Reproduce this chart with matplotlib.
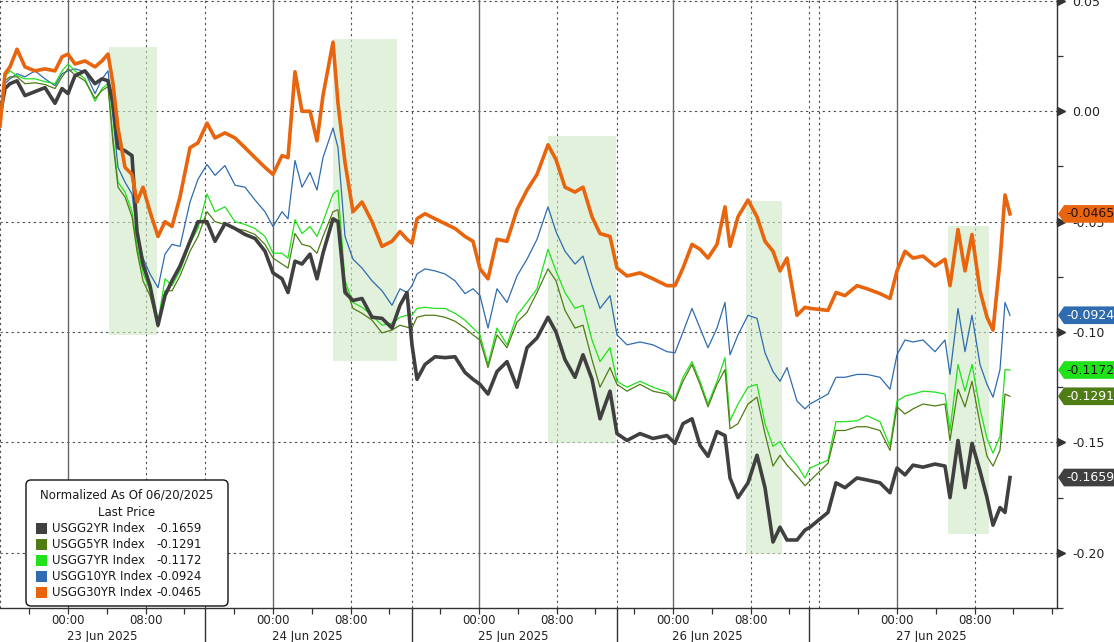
import matplotlib
matplotlib.use('Agg')
import numpy as np
import matplotlib.pyplot as plt
import matplotlib.transforms as mtransforms
from matplotlib.patches import Rectangle, FancyBboxPatch, Polygon

# x = bar index on the compressed intraday axis, values = yield change in bp
bars = [0, 5, 10, 17, 25, 35, 45, 55, 62, 68,
        75, 85, 95, 102, 108, 113, 118, 125, 132, 137,
        143, 150, 158, 165, 172, 180, 190, 198, 207, 215,
        225, 235, 245, 255, 265, 273, 282, 288, 295, 302,
        310, 317, 323, 333, 338, 345, 353, 362, 372, 382,
        392, 400, 407, 412, 417, 425, 435, 445, 455, 465,
        473, 480, 488, 497, 507, 517, 527, 537, 548, 556,
        565, 575, 583, 592, 600, 610, 617, 627, 640, 653,
        667, 675, 683, 692, 700, 708, 717, 725, 730, 738,
        748, 757, 765, 773, 780, 787, 797, 805, 810, 828,
        836, 845, 857, 867, 880, 890, 897, 905, 913, 923,
        935, 945, 950, 958, 965, 972, 980, 987, 993, 1000,
        1005, 1010]

usgg2 = [-0.22, 1.03, 1.25, 1.38, 0.71, 0.89, 1.07, 0.36, 1.03, 0.80,
         1.61, 1.83, 1.25, 1.47, 1.38, 0.36, -1.65, -1.79, -2.01, -5.45,
         -6.92, -7.90, -9.69, -8.35, -7.68, -7.01, -5.89, -5.00, -5.00, -5.89,
         -5.09, -5.31, -5.58, -5.76, -6.34, -7.32, -7.59, -8.21, -6.79, -6.92,
         -6.47, -7.59, -6.43, -4.87, -5.00, -8.21, -8.57, -8.48, -9.33, -9.38,
         -9.82, -8.79, -8.21, -10.58, -12.14, -11.47, -11.12, -11.16, -11.12, -11.83,
         -12.14, -12.37, -12.81, -11.79, -11.34, -12.50, -10.71, -10.27, -9.33, -10.00,
         -11.25, -12.05, -11.03, -12.14, -13.93, -12.68, -14.60, -14.91, -14.60, -14.82,
         -14.69, -15.04, -14.15, -13.93, -15.13, -15.63, -14.51, -14.69, -16.61, -17.50,
         -16.83, -15.58, -17.05, -19.51, -18.84, -19.42, -19.42, -18.97, -18.84, -18.17,
         -16.83, -17.05, -16.61, -16.70, -16.83, -17.28, -16.16, -16.47, -16.03, -16.12,
         -15.98, -16.07, -17.50, -14.91, -17.05, -15.04, -16.29, -17.50, -18.75, -17.95,
         -18.17, -16.59]

usgg5 = [-0.09, 1.38, 1.56, 1.56, 1.25, 1.29, 1.21, 1.03, 1.56, 1.92,
         1.65, 1.38, 0.58, 0.94, 1.12, -1.43, -3.44, -3.88, -4.78, -6.34,
         -7.68, -8.35, -9.78, -8.13, -8.13, -7.46, -6.34, -5.67, -4.55, -5.00,
         -5.13, -5.31, -5.40, -5.58, -6.03, -6.65, -6.92, -7.10, -5.54, -6.03,
         -6.12, -6.43, -5.67, -4.55, -4.46, -7.90, -8.93, -9.15, -9.46, -10.04,
         -9.91, -9.69, -9.78, -9.82, -9.33, -9.24, -9.24, -9.33, -9.51, -9.82,
         -10.13, -10.36, -11.61, -10.13, -10.71, -9.55, -9.11, -8.21, -7.14, -7.68,
         -9.02, -9.82, -9.69, -11.25, -12.50, -11.61, -12.37, -12.68, -12.37, -12.68,
         -12.81, -13.13, -12.23, -11.47, -12.37, -13.39, -12.37, -11.70, -14.38, -14.15,
         -13.26, -12.95, -14.60, -16.07, -15.58, -16.03, -16.52, -16.96, -16.74, -15.94,
         -14.46, -14.46, -14.29, -14.29, -14.46, -15.36, -13.39, -13.71, -13.48, -13.26,
         -13.35, -13.26, -14.91, -12.59, -13.39, -12.23, -14.15, -15.63, -16.07, -15.36,
         -12.81, -12.91]

usgg7 = [-0.09, 1.56, 1.83, 1.61, 1.47, 1.47, 1.34, 1.25, 1.83, 2.14,
         1.83, 1.47, 0.45, 1.03, 1.25, -1.21, -3.21, -3.66, -4.55, -6.12,
         -7.32, -8.13, -9.55, -7.59, -7.90, -7.23, -5.98, -5.31, -3.75, -4.55,
         -4.33, -5.00, -5.13, -5.31, -5.67, -6.43, -6.43, -6.65, -4.91, -5.54,
         -5.22, -5.67, -5.00, -3.75, -3.57, -7.68, -8.66, -8.88, -9.24, -9.69,
         -9.60, -9.33, -9.24, -9.24, -8.93, -8.88, -8.93, -8.93, -9.15, -9.46,
         -9.82, -10.13, -11.47, -9.82, -10.58, -9.24, -8.66, -8.04, -6.25, -7.23,
         -8.21, -8.93, -8.79, -10.36, -11.34, -10.71, -12.23, -12.50, -12.23, -12.50,
         -12.72, -13.04, -12.05, -11.34, -12.23, -13.26, -12.23, -11.16, -14.02, -13.26,
         -12.50, -12.37, -14.15, -15.18, -14.96, -15.49, -16.03, -16.61, -16.16, -15.80,
         -14.06, -14.06, -14.02, -13.79, -14.06, -15.18, -13.13, -12.90, -12.81, -12.68,
         -12.72, -12.81, -14.46, -11.47, -12.68, -11.47, -13.48, -14.82, -15.49, -14.73,
         -11.70, -11.72]

usgg10 = [-0.09, 1.25, 1.47, 1.70, 1.56, 1.83, 1.47, 1.16, 1.70, 1.83,
          1.92, 1.79, 0.80, 1.47, 1.83, -0.31, -2.54, -3.21, -3.75, -5.45,
          -6.65, -7.37, -7.99, -6.47, -6.03, -6.12, -4.11, -3.08, -2.41, -2.90,
          -2.46, -3.35, -3.44, -4.02, -4.55, -5.22, -4.55, -4.87, -2.23, -3.44,
          -2.77, -3.57, -2.10, -0.76, -1.65, -5.67, -6.70, -7.10, -7.68, -8.13,
          -8.79, -8.04, -8.21, -7.90, -7.37, -7.14, -7.23, -7.37, -7.68, -8.26,
          -8.04, -8.35, -9.82, -8.04, -8.66, -7.46, -6.70, -5.80, -4.33, -5.45,
          -6.34, -6.92, -6.56, -7.90, -8.93, -8.35, -10.13, -10.58, -10.45, -10.58,
          -10.89, -10.94, -10.00, -8.93, -9.82, -10.71, -9.82, -8.66, -11.03, -10.13,
          -9.24, -9.38, -10.94, -11.79, -12.23, -11.61, -13.13, -13.48, -13.26, -12.81,
          -12.05, -12.05, -11.92, -11.92, -12.05, -12.59, -11.03, -10.36, -10.45, -10.36,
          -10.89, -10.36, -11.92, -8.93, -10.89, -9.24, -11.47, -12.37, -12.95, -11.70,
          -8.66, -9.24]

usgg30 = [-0.67, 1.70, 2.01, 2.81, 2.01, 1.83, 1.92, 1.83, 2.46, 2.59,
          2.14, 2.28, 2.01, 2.28, 2.59, 1.25, -0.76, -2.54, -2.86, -4.11,
          -3.44, -4.55, -5.67, -5.00, -5.22, -3.88, -1.65, -1.43, -0.54, -1.21,
          -0.98, -1.21, -1.65, -2.10, -2.54, -2.86, -2.01, -2.10, 1.79, 0.00,
          0.00, -1.34, 0.71, 3.13, 0.36, -2.32, -4.55, -4.11, -5.00, -6.12,
          -5.89, -5.45, -5.80, -5.98, -4.87, -4.64, -4.87, -5.09, -5.31, -5.67,
          -5.89, -7.14, -7.59, -5.80, -5.89, -4.46, -3.57, -2.86, -1.52, -2.19,
          -3.44, -3.66, -3.44, -4.78, -5.54, -5.67, -7.10, -7.46, -7.32, -7.59,
          -7.90, -7.90, -7.10, -6.03, -6.25, -6.65, -6.03, -4.33, -6.12, -4.78,
          -4.02, -4.78, -5.89, -6.34, -7.23, -6.65, -9.24, -8.88, -8.93, -9.02,
          -8.21, -8.35, -7.90, -8.04, -8.26, -8.48, -7.23, -6.34, -6.65, -6.56,
          -7.01, -6.70, -7.90, -5.36, -7.23, -5.58, -8.13, -9.33, -9.91, -6.79,
          -3.79, -4.65]

names = ['USGG2YR Index', 'USGG5YR Index', 'USGG7YR Index', 'USGG10YR Index', 'USGG30YR Index']
day_labels = ['23 Jun 2025', '24 Jun 2025', '25 Jun 2025', '26 Jun 2025', '27 Jun 2025']
# shaded windows: (start bar, end bar, top bp, bottom bp)
windows = [(109, 157, 2.90, -10.13), (333, 397, 3.26, -11.29), (548, 616, -1.12, -15.04),
           (746, 782, -4.06, -20.04), (948, 989, -5.18, -19.15)]

midnights = [68, 273, 479, 673, 897]
day_breaks = [205, 412, 617, 809]
bars_per_hour = 9.7

colors = ['#404040', '#4f7c14', '#1fe21a', '#2e6bb0', '#e8650e']
text_colors = ['white', 'white', '#1a1a1a', 'white', '#2a1000']
widths = [2.6, 0.9, 0.9, 0.9, 2.6]
data = [usgg2, usgg5, usgg7, usgg10, usgg30]

fig = plt.figure(figsize=(11.14, 6.42), dpi=100)
ax = fig.add_axes([0, 1 - 608 / 642, 1057 / 1114, 608 / 642])
ax.set_xlim(0, 1057)
ax.set_ylim(-0.221, 0.0504)

# reference-pixel transform (origin at top-left of the plot area)
px = mtransforms.Affine2D().scale(1 / 1057, -1 / 608).translate(0, 1) + ax.transAxes
px_y_data = mtransforms.blended_transform_factory(px, ax.transData)

# grid
grid_style = dict(color='#4a4a4a', lw=0.8, ls=(0, (2, 3)), zorder=1)
for v in [0.05, 0.0, -0.05, -0.10, -0.15, -0.20]:
    ax.axhline(v, **grid_style)
for m in midnights:
    ax.axvline(m, color='#666666', lw=1.0, zorder=1)
    ax.axvline(m + 8 * bars_per_hour, **grid_style)
for b in [0] + day_breaks + [819]:
    ax.axvline(b, **grid_style)

for x0, x1, top, bot in windows:
    ax.add_patch(Rectangle((x0, bot / 100), x1 - x0, (top - bot) / 100,
                           facecolor='#cfe9c6', alpha=0.6, edgecolor='none', zorder=1.5))

order = [3, 2, 1, 0, 4]
for i in order:
    ax.plot(bars, np.array(data[i]) / 100, color=colors[i], lw=widths[i], zorder=3,
            solid_joinstyle='round')

# axes styling
for s in ['top', 'left']:
    ax.spines[s].set_visible(False)
for s in ['right', 'bottom']:
    ax.spines[s].set_color('#333333')
    ax.spines[s].set_linewidth(1.0)

ax.yaxis.tick_right()
major = [0.05, 0.0, -0.05, -0.10, -0.15, -0.20]
ax.set_yticks(major)
ax.set_yticklabels(['%.2f' % v for v in major])
ax.set_yticks(np.arange(-0.225, 0.05, 0.025), minor=True)
ax.tick_params(axis='y', which='major', length=0, pad=11, labelsize=9, labelcolor='#222222')
ax.tick_params(axis='y', which='minor', length=4, width=0.9, color='#333333')
ax.plot([1.004] * len(major), major, transform=ax.get_yaxis_transform(), marker='>', ms=6,
        color='#333333', ls='none', clip_on=False, zorder=4)

xt, xl = [], []
for k, m in enumerate(midnights):
    steps = range(-1, 5) if k == len(midnights) - 1 else range(-1, 4)
    for h in steps:
        xt.append(m + 4 * h * bars_per_hour)
        xl.append({0: '00:00', 2: '08:00'}.get(h, ''))
ax.set_xticks(xt)
ax.set_xticklabels(xl)
ax.tick_params(axis='x', length=4, width=0.9, color='#333333', pad=0.5, labelsize=8.5,
               labelcolor='#222222')
for m, lab in zip(midnights, day_labels):
    ax.text(m + 34, -0.0465, lab, transform=ax.get_xaxis_transform(), ha='center', va='center',
            fontsize=8.5, color='#222222')
for b in day_breaks:
    ax.plot([b, b], [0, -0.07], transform=ax.get_xaxis_transform(), color='#333333', lw=1.0,
            clip_on=False)

# last price tags on the right
h = 0.004
for i in range(5):
    v = data[i][-1] / 100
    ax.add_patch(Polygon([(1058, v), (1064, v + h), (1114, v + h), (1114, v - h), (1064, v - h)],
                         closed=True, transform=px_y_data, facecolor=colors[i],
                         edgecolor='none', clip_on=False, zorder=6))
    ax.text(1066, v, '%.4f' % v, transform=px_y_data, ha='left', va='center', fontsize=9,
            color=text_colors[i], clip_on=False, zorder=7)

# legend box
ax.add_patch(FancyBboxPatch((26, 480), 202, 126, boxstyle='round,pad=0,rounding_size=5',
                            transform=px, facecolor='white', edgecolor='#111111', lw=1.0,
                            zorder=8))
ax.text(127, 495, 'Normalized As Of 06/20/2025', transform=px, ha='center', va='center',
        fontsize=8.5, color='#1a1a1a', zorder=9)
ax.text(127, 512, 'Last Price', transform=px, ha='center', va='center', fontsize=8.5,
        color='#1a1a1a', zorder=9)
for i in range(5):
    yy = 528 + i * 16.2
    ax.add_patch(Rectangle((36, yy - 5.5), 11, 11, transform=px, facecolor=colors[i],
                           edgecolor='none', zorder=9))
    ax.text(52, yy, names[i], transform=px, ha='left', va='center', fontsize=8.5,
            color='#1a1a1a', zorder=9)
    ax.text(156, yy, '%.4f' % (data[i][-1] / 100), transform=px, ha='left', va='center',
            fontsize=8.5, color='#1a1a1a', zorder=9)

fig.savefig('out.png', dpi=100)
